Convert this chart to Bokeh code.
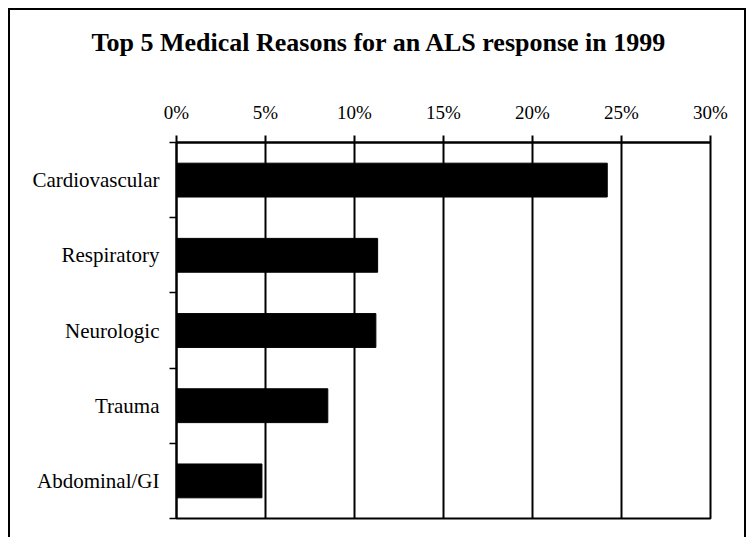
from bokeh.plotting import figure
from bokeh.models import Range1d, FixedTicker, PrintfTickFormatter
from bokeh.embed import file_html
from bokeh.resources import INLINE

categories = ["Cardiovascular", "Respiratory", "Neurologic", "Trauma", "Abdominal/GI"]
values = [24.2, 11.3, 11.2, 8.5, 4.8]
x_ticks = [0, 5, 10, 15, 20, 25, 30]
title_text = "Top 5 Medical Reasons for an ALS response in 1999"

n = len(categories)
ypos = [i + 0.5 for i in range(n)]
FONT = "Liberation Serif"

p = figure(width=738, height=529,
           x_range=Range1d(0, 30), y_range=Range1d(n, 0),
           output_backend="svg", toolbar_location=None, x_axis_location="above",
           min_border_left=166, min_border_right=38, min_border_top=132, min_border_bottom=21)

p.styles = {"border-top": "2px solid black", "border-left": "2px solid black",
            "border-right": "2px solid black", "margin-left": "8px", "margin-top": "8px"}

p.hbar(y=ypos, left=0, right=values, height=0.45, color="black")

# top x axis
xa = p.xaxis[0]
xa.ticker = FixedTicker(ticks=x_ticks, minor_ticks=[])
xa.formatter = PrintfTickFormatter(format="%d%%")
xa.axis_line_width = 2
xa.axis_line_color = "black"
xa.major_tick_in = 0
xa.major_tick_out = 7
xa.major_tick_line_width = 2
xa.major_tick_line_color = "black"
xa.minor_tick_line_color = None
xa.major_label_text_font = FONT
xa.major_label_text_font_size = "19px"
xa.major_label_text_color = "black"
xa.major_label_standoff = 13
# blank axis label used only as vertical spacing between title and tick labels
xa.axis_label = " "
xa.axis_label_text_font_size = "10px"
xa.axis_label_standoff = 23

# left y axis
ya = p.yaxis[0]
ya.ticker = FixedTicker(ticks=ypos, minor_ticks=list(range(n + 1)))
ya.major_label_overrides = {ypos[i]: categories[i] for i in range(n)}
ya.axis_line_width = 2
ya.axis_line_color = "black"
ya.major_tick_in = 0
ya.major_tick_out = 0
ya.minor_tick_in = 0
ya.minor_tick_out = 7
ya.minor_tick_line_width = 1.5
ya.minor_tick_line_color = "black"
ya.major_label_text_font = FONT
ya.major_label_text_font_size = "21px"
ya.major_label_text_color = "black"
ya.major_label_standoff = 10

p.xgrid.ticker = FixedTicker(ticks=x_ticks)
p.xgrid.grid_line_color = "black"
p.xgrid.grid_line_width = 2
p.xgrid.grid_line_alpha = 1
p.ygrid.visible = False

p.outline_line_color = "black"
p.outline_line_width = 2
p.outline_line_alpha = 1

p.title.text = title_text
p.title.text_font = FONT
p.title.text_font_style = "bold"
p.title.text_font_size = "26px"
p.title.text_color = "black"
p.title.align = "left"
p.title.offset = -85
p.title.standoff = 10

p.background_fill_color = "white"
p.border_fill_color = "white"

open("out.html", "w").write(file_html(p, INLINE))
